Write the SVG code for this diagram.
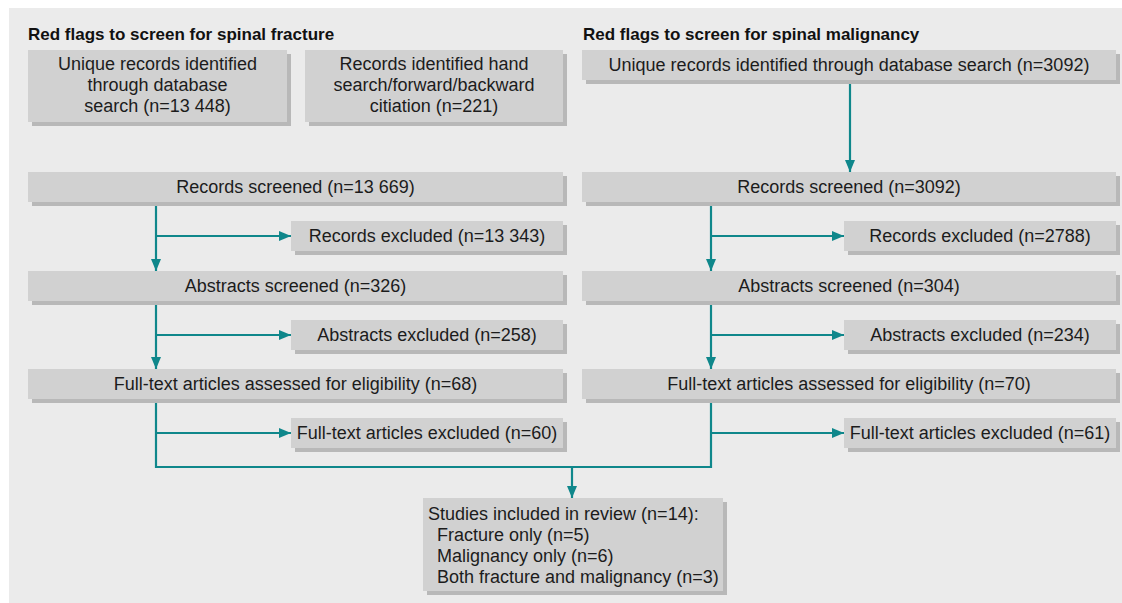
<svg xmlns="http://www.w3.org/2000/svg" width="1122" height="603" viewBox="0 0 1122 603">
<defs>
<style>
.bg{fill:#ffffff}
.panel{fill:#ebebeb}
.box{fill:#d1d1d1}
.sh{fill:#b8b8b8}
.t{font-family:"Liberation Sans",Arial,sans-serif;font-size:18px;fill:#1c1c1c}
.c{text-anchor:middle}
.h{font-family:"Liberation Sans",Arial,sans-serif;font-size:17px;font-weight:bold;fill:#111}
.ln{fill:none;stroke:#0f878b;stroke-width:2.2}
</style>
<marker id="ah" markerWidth="12" markerHeight="10" refX="12" refY="5" orient="auto" markerUnits="userSpaceOnUse">
<path d="M0,0 L12,5 L0,10 z" fill="#0f878b"/>
</marker>
</defs>
<rect class="bg" x="0" y="0" width="1122" height="603"/>
<rect class="panel" x="9" y="8" width="1113" height="595"/>
<text class="h" x="28" y="40">Red flags to screen for spinal fracture</text>
<text class="h" x="583" y="40">Red flags to screen for spinal malignancy</text>

<g id="connectors">
<path class="ln" d="M850,80 V172" marker-end="url(#ah)"/>
<path class="ln" d="M156,202 V271" marker-end="url(#ah)"/>
<path class="ln" d="M156,236 H291" marker-end="url(#ah)"/>
<path class="ln" d="M156,300 V369" marker-end="url(#ah)"/>
<path class="ln" d="M156,335 H291" marker-end="url(#ah)"/>
<path class="ln" d="M156,399 V467 H711 V399"/>
<path class="ln" d="M156,433 H291" marker-end="url(#ah)"/>
<path class="ln" d="M711,202 V271" marker-end="url(#ah)"/>
<path class="ln" d="M711,236 H844" marker-end="url(#ah)"/>
<path class="ln" d="M711,300 V369" marker-end="url(#ah)"/>
<path class="ln" d="M711,335 H844" marker-end="url(#ah)"/>
<path class="ln" d="M711,433 H844" marker-end="url(#ah)"/>
<path class="ln" d="M572,467 V498" marker-end="url(#ah)"/>
</g>

<g id="f_db">
<rect class="sh" x="32" y="54" width="259" height="72"/>
<rect class="box" x="28" y="50" width="259" height="72"/>
<text class="t c" x="157.5" y="70">Unique records identified</text>
<text class="t c" x="157.5" y="91">through database</text>
<text class="t c" x="157.5" y="112">search (n=13 448)</text>
</g>
<g id="f_hand">
<rect class="sh" x="309" y="54" width="258" height="72"/>
<rect class="box" x="305" y="50" width="258" height="72"/>
<text class="t c" x="434" y="70">Records identified hand</text>
<text class="t c" x="434" y="91">search/forward/backward</text>
<text class="t c" x="434" y="112">citiation (n=221)</text>
</g>
<g id="f_rs">
<rect class="sh" x="32" y="176" width="535" height="30"/>
<rect class="box" x="28" y="172" width="535" height="30"/>
<text class="t c" x="295.5" y="193">Records screened (n=13 669)</text>
</g>
<g id="f_re">
<rect class="sh" x="295" y="225" width="272" height="30"/>
<rect class="box" x="291" y="221" width="272" height="30"/>
<text class="t c" x="427" y="242">Records excluded (n=13 343)</text>
</g>
<g id="f_as">
<rect class="sh" x="32" y="275" width="535" height="30"/>
<rect class="box" x="28" y="271" width="535" height="30"/>
<text class="t c" x="295.5" y="292">Abstracts screened (n=326)</text>
</g>
<g id="f_ae">
<rect class="sh" x="295" y="324" width="272" height="30"/>
<rect class="box" x="291" y="320" width="272" height="30"/>
<text class="t c" x="427" y="341">Abstracts excluded (n=258)</text>
</g>
<g id="f_ft">
<rect class="sh" x="32" y="373" width="535" height="30"/>
<rect class="box" x="28" y="369" width="535" height="30"/>
<text class="t c" x="295.5" y="390">Full-text articles assessed for eligibility (n=68)</text>
</g>
<g id="f_fte">
<rect class="sh" x="295" y="422" width="272" height="30"/>
<rect class="box" x="291" y="418" width="272" height="30"/>
<text class="t c" x="427" y="439">Full-text articles excluded (n=60)</text>
</g>

<g id="m_db">
<rect class="sh" x="586" y="54" width="534" height="30"/>
<rect class="box" x="582" y="50" width="534" height="30"/>
<text class="t c" x="849" y="71">Unique records identified through database search (n=3092)</text>
</g>
<g id="m_rs">
<rect class="sh" x="586" y="176" width="534" height="30"/>
<rect class="box" x="582" y="172" width="534" height="30"/>
<text class="t c" x="849" y="193">Records screened (n=3092)</text>
</g>
<g id="m_re">
<rect class="sh" x="848" y="225" width="272" height="30"/>
<rect class="box" x="844" y="221" width="272" height="30"/>
<text class="t c" x="980" y="242">Records excluded (n=2788)</text>
</g>
<g id="m_as">
<rect class="sh" x="586" y="275" width="534" height="30"/>
<rect class="box" x="582" y="271" width="534" height="30"/>
<text class="t c" x="849" y="292">Abstracts screened (n=304)</text>
</g>
<g id="m_ae">
<rect class="sh" x="848" y="324" width="272" height="30"/>
<rect class="box" x="844" y="320" width="272" height="30"/>
<text class="t c" x="980" y="341">Abstracts excluded (n=234)</text>
</g>
<g id="m_ft">
<rect class="sh" x="586" y="373" width="534" height="30"/>
<rect class="box" x="582" y="369" width="534" height="30"/>
<text class="t c" x="849" y="390">Full-text articles assessed for eligibility (n=70)</text>
</g>
<g id="m_fte">
<rect class="sh" x="848" y="422" width="272" height="30"/>
<rect class="box" x="844" y="418" width="272" height="30"/>
<text class="t c" x="980" y="439">Full-text articles excluded (n=61)</text>
</g>

<g id="included">
<rect class="sh" x="427" y="502" width="300" height="93"/>
<rect class="box" x="423" y="498" width="300" height="93"/>
<text class="t" x="428" y="520">Studies included in review (n=14):</text>
<text class="t" x="437" y="541">Fracture only (n=5)</text>
<text class="t" x="437" y="562">Malignancy only (n=6)</text>
<text class="t" x="437" y="583">Both fracture and malignancy (n=3)</text>
</g>
</svg>
